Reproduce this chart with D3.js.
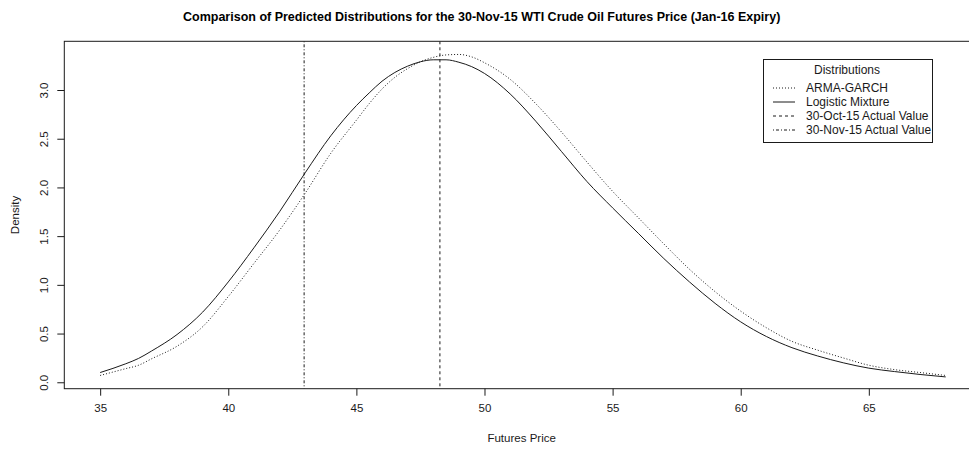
<!DOCTYPE html>
<html>
<head>
<meta charset="utf-8">
<script src="https://cdn.jsdelivr.net/npm/d3@7/dist/d3.min.js"></script>
<style>
  html, body { margin: 0; padding: 0; background: #fff; }
  svg { display: block; font-family: "Liberation Sans", Arial, sans-serif; }
</style>
</head>
<body>
<svg id="chart" width="969" height="450"></svg>
<script>
// Price grid (USD/bbl) at which both predictive densities are evaluated
const prices = [35, 36, 36.5, 37, 38, 39, 40, 41, 42, 43, 44, 45, 45.5, 46, 46.5, 47, 47.5, 48, 48.5, 49, 49.5, 50,
                51, 52, 53, 54, 55, 56, 57, 58, 59, 60, 61, 62, 63, 64, 65, 66, 67, 68];

// Logistic mixture predictive density
const logisticMixture = [0.10, 0.19, 0.245, 0.32, 0.49, 0.72, 1.03, 1.38, 1.75, 2.15, 2.53, 2.84, 2.97, 3.09, 3.18, 3.245, 3.29, 3.31, 3.31, 3.285, 3.24, 3.17,
                         2.96, 2.68, 2.37, 2.06, 1.79, 1.53, 1.27, 1.03, 0.81, 0.62, 0.47, 0.355, 0.27, 0.20, 0.145, 0.11, 0.08, 0.055];

// ARMA-GARCH predictive density
const armaGarch = [0.07, 0.14, 0.175, 0.24, 0.37, 0.57, 0.88, 1.22, 1.56, 1.94, 2.35, 2.69, 2.86, 3.01, 3.13, 3.22, 3.29, 3.335, 3.36, 3.365, 3.34, 3.28,
                   3.11, 2.86, 2.57, 2.26, 1.96, 1.69, 1.42, 1.16, 0.93, 0.73, 0.56, 0.42, 0.33, 0.25, 0.175, 0.13, 0.10, 0.07];

// Realised futures prices
const actualOct = 48.26;   // 30-Oct-15
const actualNov = 42.96;   // 30-Nov-15

const xTicks = [35, 40, 45, 50, 55, 60, 65];
const yTicks = [0.0, 0.5, 1.0, 1.5, 2.0, 2.5, 3.0];

const legendItems = [
  { label: "ARMA-GARCH", dash: "1,2" },
  { label: "Logistic Mixture", dash: null },
  { label: "30-Oct-15 Actual Value", dash: "3,3" },
  { label: "30-Nov-15 Actual Value", dash: "1,2,3,2" }
];

const svg = d3.select("#chart");
const plot = { left: 64.3, right: 979, top: 41.3, bottom: 388.7 };

const x = d3.scaleLinear().domain([33.6, 69.3]).range([plot.left, plot.right]);
const y = d3.scaleLinear().domain([-0.066, 3.50]).range([plot.bottom, plot.top]);

const ink = "#1a1a1a";
const font = "'Liberation Sans', Arial, sans-serif";

// clip region for the plotting area
svg.append("defs").append("clipPath").attr("id", "plotArea")
  .append("rect")
  .attr("x", plot.left).attr("y", plot.top)
  .attr("width", plot.right - plot.left).attr("height", plot.bottom - plot.top);

const body = svg.append("g").attr("clip-path", "url(#plotArea)");

const line = d3.line().x(d => x(d[0])).y(d => y(d[1])).curve(d3.curveMonotoneX);

body.append("path")
  .datum(prices.map((p, i) => [p, armaGarch[i]]))
  .attr("d", line)
  .attr("fill", "none").attr("stroke", ink).attr("stroke-width", 1)
  .attr("stroke-dasharray", "1,2");

body.append("path")
  .datum(prices.map((p, i) => [p, logisticMixture[i]]))
  .attr("d", line)
  .attr("fill", "none").attr("stroke", ink).attr("stroke-width", 1);

// vertical reference lines for the actual values
body.append("line")
  .attr("x1", x(actualOct)).attr("x2", x(actualOct))
  .attr("y1", plot.top).attr("y2", plot.bottom)
  .attr("stroke", ink).attr("stroke-width", 1).attr("stroke-dasharray", "3,3");

body.append("line")
  .attr("x1", x(actualNov)).attr("x2", x(actualNov))
  .attr("y1", plot.top).attr("y2", plot.bottom)
  .attr("stroke", ink).attr("stroke-width", 1).attr("stroke-dasharray", "1,2,3,2");

// plot frame
svg.append("rect")
  .attr("x", plot.left).attr("y", plot.top)
  .attr("width", plot.right - plot.left).attr("height", plot.bottom - plot.top)
  .attr("fill", "none").attr("stroke", ink).attr("stroke-width", 1);

// axes
const xAxis = svg.append("g")
  .attr("transform", `translate(0,${plot.bottom})`)
  .call(d3.axisBottom(x).tickValues(xTicks).tickFormat(d3.format("d")).tickSize(7).tickPadding(8));
xAxis.select(".domain").remove();
xAxis.selectAll("line").attr("stroke", ink);
xAxis.selectAll("text").attr("font-size", 11.5).attr("fill", ink).attr("font-family", font);

const yAxis = svg.append("g")
  .attr("transform", `translate(${plot.left},0)`)
  .call(d3.axisLeft(y).tickValues(yTicks).tickFormat(d3.format(".1f")).tickSize(7).tickPadding(0));
yAxis.select(".domain").remove();
yAxis.selectAll("line").attr("stroke", ink);
yAxis.selectAll("text")
  .attr("font-size", 11.5).attr("fill", ink).attr("font-family", font)
  .attr("x", null)
  .attr("text-anchor", "middle")
  .attr("transform", "translate(-20,0) rotate(-90)")
  .attr("dy", "0.35em");

// axis titles
svg.append("text")
  .attr("x", (plot.left + plot.right) / 2).attr("y", 442)
  .attr("text-anchor", "middle").attr("font-size", 11.5).attr("fill", ink)
  .text("Futures Price");

svg.append("text")
  .attr("transform", `translate(19,${(plot.top + plot.bottom) / 2}) rotate(-90)`)
  .attr("text-anchor", "middle").attr("font-size", 11.5).attr("fill", ink)
  .text("Density");

// chart title
svg.append("text")
  .attr("x", (plot.left + plot.right) / 2 - 40).attr("y", 21)
  .attr("text-anchor", "middle").attr("font-size", 12.5).attr("font-weight", "bold").attr("fill", "#000")
  .text("Comparison of Predicted Distributions for the 30-Nov-15 WTI Crude Oil Futures Price (Jan-16 Expiry)");

// legend
const lg = svg.append("g");
lg.append("rect")
  .attr("x", 763.5).attr("y", 59.5).attr("width", 169).attr("height", 83)
  .attr("fill", "#fff").attr("stroke", ink).attr("stroke-width", 1);
lg.append("text")
  .attr("x", 847).attr("y", 74).attr("text-anchor", "middle")
  .attr("font-size", 12).attr("fill", ink).text("Distributions");
legendItems.forEach((d, i) => {
  const yy = 88 + i * 14;
  lg.append("line")
    .attr("x1", 773).attr("x2", 795).attr("y1", yy).attr("y2", yy)
    .attr("stroke", ink).attr("stroke-width", 1)
    .attr("stroke-dasharray", d.dash);
  lg.append("text")
    .attr("x", 806).attr("y", yy).attr("dy", "0.35em")
    .attr("font-size", 12).attr("fill", ink).text(d.label);
});
</script>
</body>
</html>
